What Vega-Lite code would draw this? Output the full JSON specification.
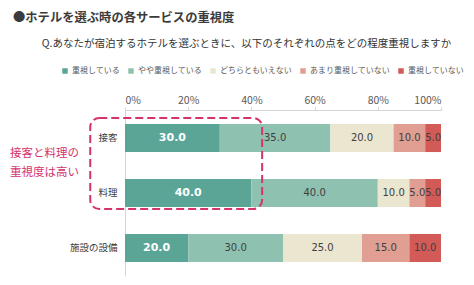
{
  "$schema": "https://vega.github.io/schema/vega-lite/v6.json",
  "width": 316,
  "height": 166,
  "autosize": {"type": "none"},
  "padding": {"left": 125, "top": 110, "right": 33, "bottom": 9},
  "background": "white",
  "config": {
    "view": {"stroke": null},
    "font": "Noto Sans CJK JP"
  },
  "title": {
    "text": "●ホテルを選ぶ時の各サービスの重視度",
    "anchor": "start",
    "frame": "group",
    "dx": -112,
    "dy": -10,
    "fontSize": 12.3,
    "fontWeight": "bold",
    "color": "#3b3b3b",
    "font": "Noto Sans CJK JP"
  },
  "datasets": {
    "answers": [
      {"item": "接客", "level": "重視している", "value": 30},
      {"item": "接客", "level": "やや重視している", "value": 35},
      {"item": "接客", "level": "どちらともいえない", "value": 20},
      {"item": "接客", "level": "あまり重視していない", "value": 10},
      {"item": "接客", "level": "重視していない", "value": 5},
      {"item": "料理", "level": "重視している", "value": 40},
      {"item": "料理", "level": "やや重視している", "value": 40},
      {"item": "料理", "level": "どちらともいえない", "value": 10},
      {"item": "料理", "level": "あまり重視していない", "value": 5},
      {"item": "料理", "level": "重視していない", "value": 5},
      {"item": "施設の設備", "level": "重視している", "value": 20},
      {"item": "施設の設備", "level": "やや重視している", "value": 30},
      {"item": "施設の設備", "level": "どちらともいえない", "value": 25},
      {"item": "施設の設備", "level": "あまり重視していない", "value": 15},
      {"item": "施設の設備", "level": "重視していない", "value": 10}
    ],
    "callout": [
      {"x": -11, "x2": 43.4, "y": 0.145, "y2": 1.79}
    ],
    "note": [
      {"x": -36.4, "y": 0.795, "text": "接客と料理の\n重視度は高い"}
    ]
  },
  "resolve": {"scale": {"y": "independent"}},
  "layer": [
    {
      "data": {"name": "answers"},
      "transform": [
        {"calculate": "indexof(['重視している','やや重視している','どちらともいえない','あまり重視していない','重視していない'], datum.level)", "as": "rank"},
        {"stack": "value", "groupby": ["item"], "sort": [{"field": "rank", "order": "ascending"}], "as": ["x0", "x1"]},
        {"calculate": "(datum.x0 + datum.x1) / 2", "as": "mid"}
      ],
      "encoding": {
        "y": {
          "field": "item",
          "type": "nominal",
          "sort": ["接客", "料理", "施設の設備"],
          "scale": {"paddingInner": 0.49, "paddingOuter": 0.2545},
          "axis": {
            "title": null,
            "orient": "left",
            "ticks": false,
            "domain": true,
            "domainColor": "#d4d4d4",
            "labelFont": "Noto Sans CJK JP",
            "labelFontSize": 9.5,
            "labelColor": "#404040",
            "labelPadding": 8
          }
        }
      },
      "layer": [
        {
          "mark": {"type": "bar"},
          "encoding": {
            "x": {
              "field": "x0",
              "type": "quantitative",
              "scale": {"domain": [0, 100], "nice": false},
              "axis": {
                "orient": "top",
                "values": [0, 20, 40, 60, 80, 100],
                "labelExpr": "datum.value + '%'",
                "grid": false,
                "domainColor": "#d4d4d4",
                "tickColor": "#d4d4d4",
                "tickSize": 3,
                "labelFont": "Noto Sans CJK JP",
                "labelFontSize": 10.5,
                "labelColor": "#595959",
                "labelPadding": 2,
                "title": "Q.あなたが宿泊するホテルを選ぶときに、以下のそれぞれの点をどの程度重視しますか",
                "titleFont": "Noto Sans CJK JP",
                "titleFontSize": 10.5,
                "titleFontWeight": "normal",
                "titleColor": "#333333",
                "titleX": 121,
                "titleY": -67,
                "titleAlign": "center",
                "titleBaseline": "middle"
              }
            },
            "x2": {"field": "x1"},
            "color": {
              "field": "level",
              "type": "nominal",
              "sort": ["重視している", "やや重視している", "どちらともいえない", "あまり重視していない", "重視していない"],
              "scale": {
                "domain": ["重視している", "やや重視している", "どちらともいえない", "あまり重視していない", "重視していない"],
                "range": ["#5aa596", "#8fc1b1", "#ebe6d0", "#e09f92", "#d25a57"]
              },
              "legend": {
                "title": null,
                "orient": "none",
                "direction": "horizontal",
                "legendX": -64,
                "legendY": -43,
                "symbolType": "square",
                "symbolSize": 30,
                "symbolStrokeWidth": 0,
                "labelFont": "Noto Sans CJK JP",
                "labelFontSize": 8,
                "labelColor": "#595959",
                "labelOffset": 3,
                "columnPadding": 7
              }
            }
          }
        },
        {
          "transform": [{"filter": "datum.rank === 0"}],
          "mark": {"type": "text", "font": "DejaVu Sans", "fontSize": 11, "fontWeight": "bold", "color": "white", "baseline": "middle"},
          "encoding": {
            "x": {"field": "mid", "type": "quantitative"},
            "text": {"field": "value", "type": "quantitative", "format": ".1f"}
          }
        },
        {
          "transform": [{"filter": "datum.rank > 0"}],
          "mark": {"type": "text", "font": "DejaVu Sans", "fontSize": 10, "color": "#404040", "baseline": "middle"},
          "encoding": {
            "x": {"field": "mid", "type": "quantitative"},
            "text": {"field": "value", "type": "quantitative", "format": ".1f"}
          }
        }
      ]
    },
    {
      "data": {"name": "callout"},
      "mark": {"type": "rect", "fill": null, "stroke": "#d6336c", "strokeWidth": 2, "strokeDash": [8, 4], "cornerRadius": 9},
      "encoding": {
        "x": {"field": "x", "type": "quantitative"},
        "x2": {"field": "x2"},
        "y": {"field": "y", "type": "quantitative", "scale": {"domain": [0, 3], "reverse": true, "nice": false, "zero": false}, "axis": null},
        "y2": {"field": "y2"}
      }
    },
    {
      "data": {"name": "note"},
      "mark": {"type": "text", "align": "left", "baseline": "middle", "lineBreak": "\n", "lineHeight": 19, "font": "Noto Sans CJK JP", "fontSize": 11.5, "color": "#d6336c"},
      "encoding": {
        "x": {"field": "x", "type": "quantitative"},
        "y": {"field": "y", "type": "quantitative", "scale": {"domain": [0, 3], "reverse": true, "nice": false, "zero": false}, "axis": null},
        "text": {"field": "text", "type": "nominal"}
      }
    }
  ]
}
